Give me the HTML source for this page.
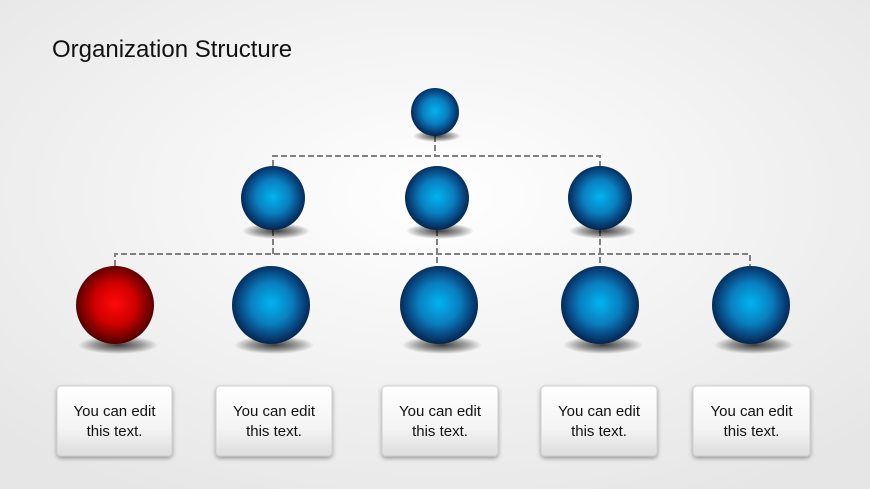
<!DOCTYPE html>
<html><head><meta charset="utf-8"><style>
html,body{margin:0;padding:0;width:870px;height:489px;overflow:hidden;background:#f2f2f2}
</style></head><body>
<svg width="870" height="489" viewBox="0 0 870 489" xmlns="http://www.w3.org/2000/svg">
<defs>
<radialGradient id="bg" cx="50%" cy="40%" r="70%"><stop offset="0" stop-color="#ffffff"/><stop offset="1" stop-color="#e6e6e6"/></radialGradient>
<radialGradient id="blue" cx="50%" cy="48%" r="52%"><stop offset="0" stop-color="#00b4f0"/><stop offset="0.5" stop-color="#0a7fc0"/><stop offset="0.85" stop-color="#073d74"/><stop offset="1" stop-color="#04254a"/></radialGradient>
<radialGradient id="red" cx="50%" cy="48%" r="52%"><stop offset="0" stop-color="#ff0a0a"/><stop offset="0.5" stop-color="#d00000"/><stop offset="0.85" stop-color="#760000"/><stop offset="1" stop-color="#500000"/></radialGradient>
<radialGradient id="sh" cx="50%" cy="50%" r="50%"><stop offset="0" stop-color="#000" stop-opacity="0.75"/><stop offset="0.6" stop-color="#000" stop-opacity="0.35"/><stop offset="1" stop-color="#000" stop-opacity="0"/></radialGradient>
<linearGradient id="box" x1="0" y1="0" x2="0" y2="1"><stop offset="0" stop-color="#ffffff"/><stop offset="0.6" stop-color="#f4f4f4"/><stop offset="1" stop-color="#dcdcdc"/></linearGradient>
<filter id="bs" x="-20%" y="-20%" width="140%" height="150%"><feDropShadow dx="0" dy="2" stdDeviation="2" flood-opacity="0.35"/></filter>
</defs>
<rect width="870" height="489" fill="url(#bg)"/>
<text x="52" y="57" font-family="Liberation Sans, sans-serif" font-size="24" fill="#111">Organization Structure</text>
<g stroke="#808080" stroke-width="2" stroke-dasharray="6,3" fill="none">
<path d="M435 136 V156 M273 166 V156 H600 V166"/>
<path d="M273 230 V254 M437 230 V266 M600 230 V266 M115 266 V254 H750 V266"/>
</g>
<g>
<ellipse cx="437" cy="136" rx="24" ry="6" fill="url(#sh)"/>
<circle cx="435" cy="112" r="24" fill="url(#blue)"/>
<ellipse cx="276" cy="231" rx="34" ry="8" fill="url(#sh)"/>
<circle cx="273" cy="198" r="32" fill="url(#blue)"/>
<ellipse cx="440" cy="231" rx="34" ry="8" fill="url(#sh)"/>
<circle cx="437" cy="198" r="32" fill="url(#blue)"/>
<ellipse cx="603" cy="231" rx="34" ry="8" fill="url(#sh)"/>
<circle cx="600" cy="198" r="32" fill="url(#blue)"/>
<ellipse cx="118" cy="345" rx="40" ry="9" fill="url(#sh)"/>
<circle cx="115" cy="305" r="39" fill="url(#red)"/>
<ellipse cx="274" cy="345" rx="40" ry="9" fill="url(#sh)"/>
<circle cx="271" cy="305" r="39" fill="url(#blue)"/>
<ellipse cx="442" cy="345" rx="40" ry="9" fill="url(#sh)"/>
<circle cx="439" cy="305" r="39" fill="url(#blue)"/>
<ellipse cx="603" cy="345" rx="40" ry="9" fill="url(#sh)"/>
<circle cx="600" cy="305" r="39" fill="url(#blue)"/>
<ellipse cx="754" cy="345" rx="40" ry="9" fill="url(#sh)"/>
<circle cx="751" cy="305" r="39" fill="url(#blue)"/>
</g>
<g font-family="Liberation Sans, sans-serif" font-size="15" fill="#111" text-anchor="middle">
<rect x="57" y="386" width="115" height="70" rx="4" fill="url(#box)" stroke="#d0d0d0" filter="url(#bs)"/>
<text x="114.5" y="416">You can edit</text><text x="114.5" y="436">this text.</text>
<rect x="216" y="386" width="116" height="70" rx="4" fill="url(#box)" stroke="#d0d0d0" filter="url(#bs)"/>
<text x="274" y="416">You can edit</text><text x="274" y="436">this text.</text>
<rect x="382" y="386" width="116" height="70" rx="4" fill="url(#box)" stroke="#d0d0d0" filter="url(#bs)"/>
<text x="440" y="416">You can edit</text><text x="440" y="436">this text.</text>
<rect x="541" y="386" width="116" height="70" rx="4" fill="url(#box)" stroke="#d0d0d0" filter="url(#bs)"/>
<text x="599" y="416">You can edit</text><text x="599" y="436">this text.</text>
<rect x="693" y="386" width="117" height="70" rx="4" fill="url(#box)" stroke="#d0d0d0" filter="url(#bs)"/>
<text x="751.5" y="416">You can edit</text><text x="751.5" y="436">this text.</text>
</g>
</svg>
</body></html>
